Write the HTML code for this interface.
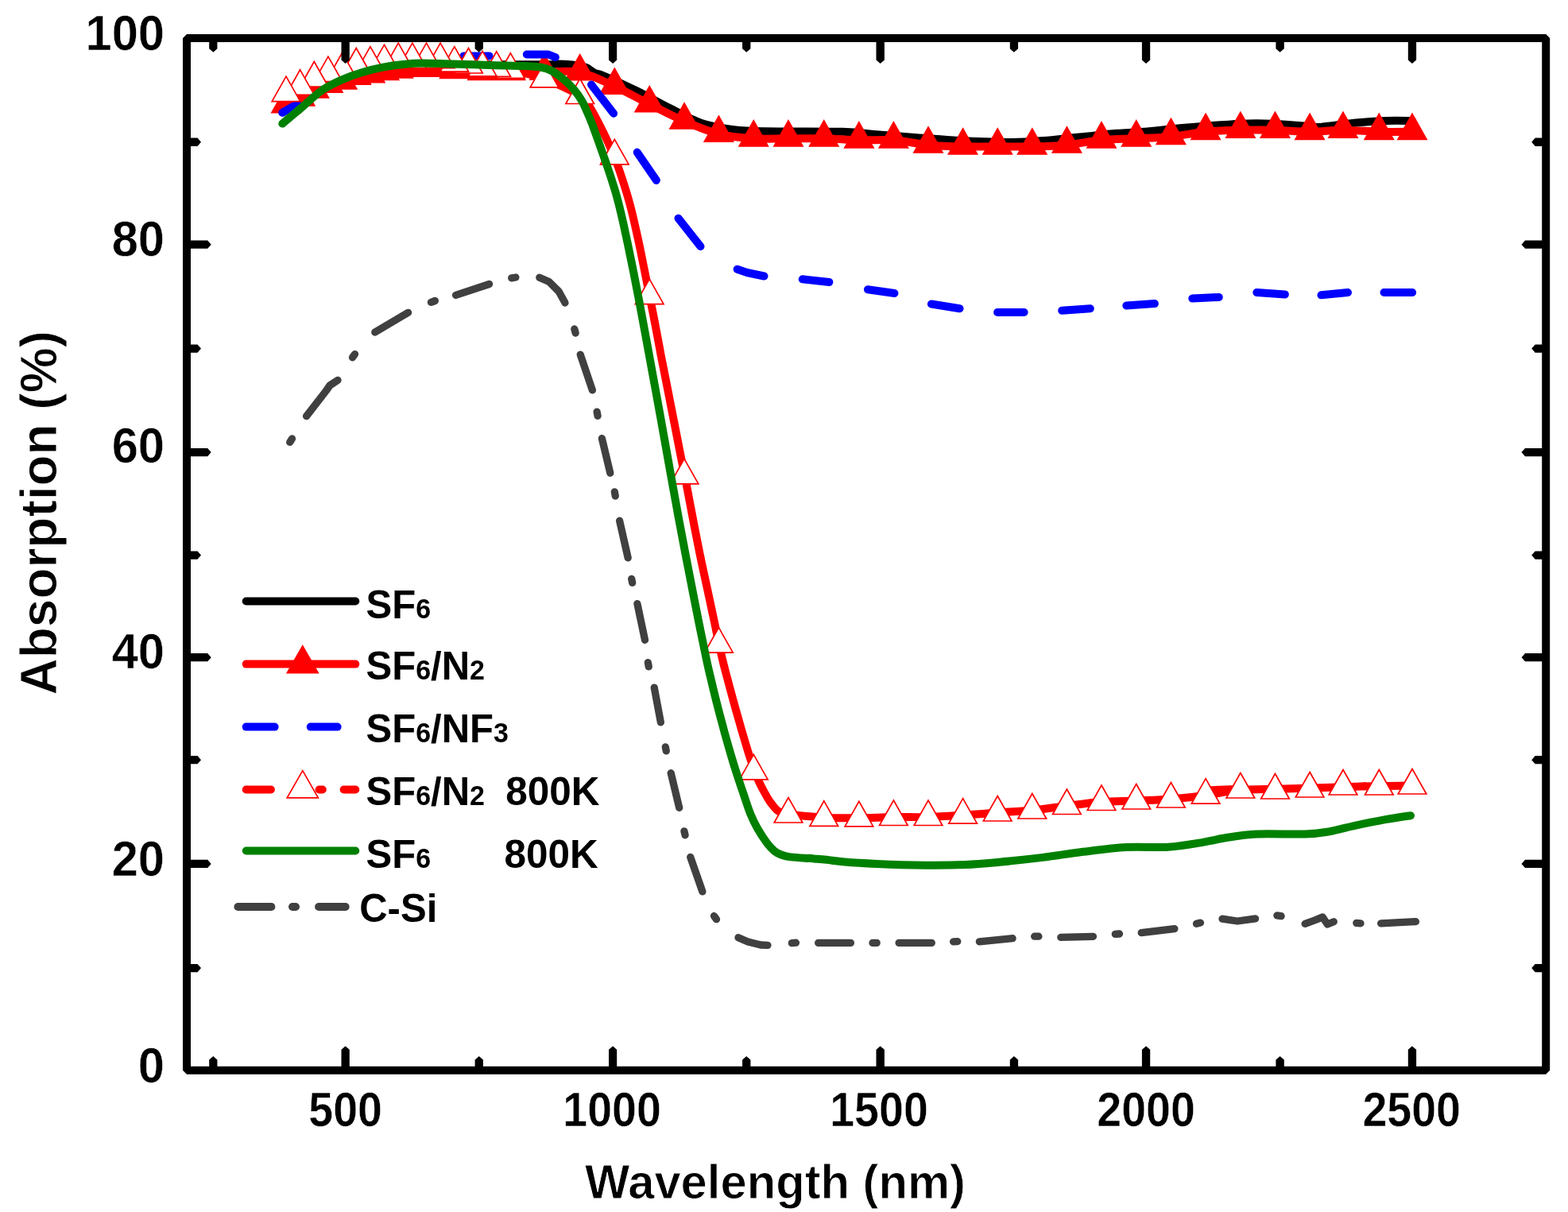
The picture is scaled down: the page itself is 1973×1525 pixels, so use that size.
<!DOCTYPE html>
<html lang="en"><head><meta charset="utf-8"><title>Absorption vs Wavelength</title>
<style>
html,body{margin:0;padding:0;background:#fff;}
body{width:1973px;height:1525px;overflow:hidden;}
svg{display:block;}
text{font-family:"Liberation Sans",Arial,Helvetica,sans-serif;font-weight:bold;fill:#000;}
.th{stroke:#fff;stroke-width:0.5px;paint-order:fill stroke;}
.tt{stroke:#fff;stroke-width:0.9px;paint-order:fill stroke;}
.tk{font-size:62.1px;}
.lg{font-size:49.8px;}
.sb{font-size:34.5px;}
</style></head><body>
<svg width="1973" height="1525" viewBox="0 0 1973 1525">
<rect x="0" y="0" width="1973" height="1525" fill="#ffffff"/>
<g id="series">
<path d="M360 125 C362.9 123.6 371.8 119.7 377.6 116.5 C383.4 113.3 389.1 108.8 395 106 C400.9 103.2 407.1 101.3 413 99.5 C418.9 97.7 424.8 96.7 430.6 95 C436.4 93.3 442.1 90.8 448 89.5 C453.9 88.2 460.1 87.9 466 87 C471.9 86.1 477.7 84.9 483.5 84 C489.3 83.1 492.2 82.2 501 81.5 C509.8 80.8 524.2 80.1 536 80 C547.8 79.9 560.2 80.8 572 81 C583.8 81.2 595.7 81.2 607 81.3 C618.3 81.3 626.2 81.3 640 81.3 C653.8 81.3 680 81.4 690 81.3 C700 81.2 695 80.5 700 80.5 C705 80.5 713.8 80.8 720 81.5 C726.2 82.2 733 83.5 737 84.8 C741 86.1 742 87.9 744 89.1 C746 90.3 746.3 91.1 749 92.2 C751.7 93.3 751.2 91.8 760 95.5 C768.8 99.2 787.9 107.8 801.6 114.5 C815.3 121.2 828.7 129.1 842.2 135.8 C855.7 142.6 869.2 150.4 882.7 155 C896.2 159.6 909.8 161.4 923.3 163.1 C936.8 164.8 941 164.8 963.8 165.2 C986.6 165.6 1037.3 165.2 1060 165.8 C1082.7 166.4 1084.8 167.7 1100 168.9 C1115.2 170.1 1135.7 171.7 1151 172.9 C1166.3 174.1 1178.5 175.2 1192 176 C1205.5 176.8 1218.5 177.5 1232 178 C1245.5 178.5 1259.5 179.2 1273 179 C1286.5 178.8 1301.2 177.8 1313 177 C1324.8 176.2 1335.5 174.8 1344 173.9 C1352.5 173.1 1353.8 172.9 1364 171.9 C1374.2 170.9 1392.3 168.8 1405 167.8 C1417.7 166.8 1425.7 167 1440 165.8 C1454.3 164.6 1470.4 162.5 1490.7 160.8 C1511 159.1 1543 156.5 1561.6 155.7 C1580.2 154.8 1588.7 155.2 1602.2 155.7 C1615.7 156.2 1632.6 158 1642.7 158.7 C1652.8 159.4 1652.8 160.4 1663 159.7 C1673.2 159 1690.1 156 1703.6 154.7 C1717.1 153.4 1731.8 152.4 1744 152 C1756.2 151.6 1771.5 152 1777 152" fill="none" stroke="#000000" stroke-width="10" stroke-linejoin="round" stroke-linecap="round"/>
<path d="M360 132.1 C362.9 130.7 371.8 126.6 377.6 123.5 C383.5 120.4 389.4 116.1 395.3 113.3 C401.2 110.5 407.1 108.5 412.9 106.7 C418.8 104.9 424.7 104.1 430.6 102.4 C436.5 100.7 442.4 98 448.2 96.6 C454.1 95.2 460 95 465.9 94.1 C471.8 93.2 477.7 91.9 483.5 91 C489.4 90.1 495.3 89.2 501.2 88.5 C507.1 87.8 513 87 518.9 86.7 C524.7 86.4 530.6 86.7 536.5 86.7 C542.4 86.7 548.3 86.3 554.1 86.7 C560 87.1 565.9 88.6 571.8 89 C577.7 89.4 583.6 88.7 589.5 89 C595.3 89.3 601.2 90.7 607.1 91 C613 91.3 618.9 91 624.8 91 C630.6 91 632.4 91 642.4 91 C652.4 91 670.5 90.7 685 90.7 C699.5 90.7 715 88.2 729.7 91.2 C744.4 94.2 758.7 102 773.3 108.6 C787.9 115.2 802.6 123.8 817.2 131.1 C831.8 138.4 846.5 146.1 861 152.4 C875.5 158.6 889.9 164.9 904.4 168.6 C918.9 172.2 933.7 173.3 948.3 174.3 C962.9 175.2 977.2 174.3 992 174.3 C1006.8 174.3 1022 174 1036.8 174.3 C1051.6 174.6 1066.3 176 1080.9 176.3 C1095.5 176.6 1109.9 175.3 1124.4 176.3 C1138.9 177.3 1153.5 181 1168 182.4 C1182.5 183.7 1197.1 184.1 1211.6 184.4 C1226.1 184.7 1240.7 184.4 1255.2 184.4 C1269.7 184.4 1284.3 184.7 1298.8 184.4 C1313.3 184.1 1327.9 183.7 1342.4 182.4 C1356.9 181 1371.4 177.6 1386 176.3 C1400.6 174.9 1415.2 175 1429.8 174.3 C1444.4 173.6 1458.9 173.3 1473.4 171.9 C1488 170.5 1502.5 167.2 1517.1 165.8 C1531.7 164.4 1546.3 164 1560.9 163.7 C1575.5 163.3 1590 163.3 1604.5 163.7 C1619 164 1633.8 165.8 1648.1 165.8 C1662.3 165.8 1675.5 163.7 1690 163.7 C1704.5 163.7 1720.8 165.4 1735.3 165.8 C1749.8 166.1 1770 165.8 1777 165.8" fill="none" stroke="#ff0000" stroke-width="10" stroke-linejoin="round" stroke-linecap="butt"/>
<path d="M1777 143.1 L1795.2 175.4 L1758.8 175.4 Z M1735.3 143.1 L1753.5 175.4 L1717 175.4 Z M1690 141 L1708.2 173.3 L1671.8 173.3 Z M1648.1 143.1 L1666.3 175.4 L1629.8 175.4 Z M1604.5 141 L1622.8 173.3 L1586.2 173.3 Z M1560.9 141 L1579.2 173.3 L1542.7 173.3 Z M1517.1 143.1 L1535.3 175.4 L1498.8 175.4 Z M1473.4 149.2 L1491.7 181.5 L1455.2 181.5 Z M1429.8 151.6 L1448 183.9 L1411.5 183.9 Z M1386 153.6 L1404.2 185.9 L1367.8 185.9 Z M1342.4 159.7 L1360.7 192 L1324.2 192 Z M1298.8 161.7 L1317 194 L1280.5 194 Z M1255.2 161.7 L1273.5 194 L1237 194 Z M1211.6 161.7 L1229.8 194 L1193.3 194 Z M1168 159.7 L1186.2 192 L1149.8 192 Z M1124.4 153.6 L1142.7 185.9 L1106.2 185.9 Z M1080.9 153.6 L1099.2 185.9 L1062.7 185.9 Z M1036.8 151.6 L1055 183.9 L1018.5 183.9 Z M992 151.6 L1010.2 183.9 L973.8 183.9 Z M948.3 151.6 L966.5 183.9 L930 183.9 Z M904.4 145.9 L922.6 178.2 L886.1 178.2 Z M861 129.7 L879.2 162 L842.8 162 Z M817.2 108.4 L835.5 140.7 L799 140.7 Z M773.3 85.9 L791.5 118.2 L755 118.2 Z M729.7 68.5 L748 100.8 L711.5 100.8 Z M685 68 L703.2 100.3 L666.8 100.3 Z M642.4 68.3 L660.6 100.6 L624.1 100.6 Z M624.8 68.3 L643 100.6 L606.5 100.6 Z M607.1 68.3 L625.3 100.6 L588.8 100.6 Z M589.5 66.3 L607.7 98.6 L571.2 98.6 Z M571.8 66.3 L590 98.6 L553.5 98.6 Z M554.1 64 L572.4 96.3 L535.9 96.3 Z M536.5 64 L554.8 96.3 L518.2 96.3 Z M518.9 64 L537.1 96.3 L500.6 96.3 Z M501.2 65.8 L519.5 98.1 L482.9 98.1 Z M483.5 68.3 L501.8 100.6 L465.3 100.6 Z M465.9 71.4 L484.1 103.7 L447.6 103.7 Z M448.2 73.9 L466.5 106.2 L430 106.2 Z M430.6 79.7 L448.9 112 L412.4 112 Z M412.9 84 L431.2 116.3 L394.7 116.3 Z M395.3 90.6 L413.6 122.9 L377.1 122.9 Z M377.6 100.8 L395.9 133.1 L359.4 133.1 Z M360 109.4 L378.2 141.7 L341.8 141.7 Z" fill="#ff0000" stroke="#ff0000" stroke-width="1.5" stroke-linejoin="miter"/>
<path d="M355.2 141.8 L374.6 130.7" fill="none" stroke="#0000ff" stroke-width="10" stroke-linecap="round" stroke-linejoin="round"/>
<path d="M424.2 97.3 L440 91 L457.7 85.4" fill="none" stroke="#0000ff" stroke-width="10" stroke-linecap="round" stroke-linejoin="round"/>
<path d="M503.5 75.5 L520 73.5 L537.5 72.3" fill="none" stroke="#0000ff" stroke-width="10" stroke-linecap="round" stroke-linejoin="round"/>
<path d="M583.5 70.4 L615.5 70.4" fill="none" stroke="#0000ff" stroke-width="10" stroke-linecap="round" stroke-linejoin="round"/>
<path d="M662.8 68.5 L690 68.5 L698.9 72.2" fill="none" stroke="#0000ff" stroke-width="10" stroke-linecap="round" stroke-linejoin="round"/>
<path d="M744 106.5 L772.1 142.8" fill="none" stroke="#0000ff" stroke-width="10" stroke-linecap="round" stroke-linejoin="round"/>
<path d="M801.7 191.6 L825.9 226.9" fill="none" stroke="#0000ff" stroke-width="10" stroke-linecap="round" stroke-linejoin="round"/>
<path d="M853.5 274.7 L881.5 310.1" fill="none" stroke="#0000ff" stroke-width="10" stroke-linecap="round" stroke-linejoin="round"/>
<path d="M927.6 338.7 L940 343 L961.5 347.5" fill="none" stroke="#0000ff" stroke-width="10" stroke-linecap="round" stroke-linejoin="round"/>
<path d="M1009.7 351.3 L1043.4 355" fill="none" stroke="#0000ff" stroke-width="10" stroke-linecap="round" stroke-linejoin="round"/>
<path d="M1091.9 364.2 L1125.5 369" fill="none" stroke="#0000ff" stroke-width="10" stroke-linecap="round" stroke-linejoin="round"/>
<path d="M1171.9 382.5 L1207.6 388.2" fill="none" stroke="#0000ff" stroke-width="10" stroke-linecap="round" stroke-linejoin="round"/>
<path d="M1255.1 393 L1288.6 393" fill="none" stroke="#0000ff" stroke-width="10" stroke-linecap="round" stroke-linejoin="round"/>
<path d="M1336.2 390.7 L1371.8 388.2" fill="none" stroke="#0000ff" stroke-width="10" stroke-linecap="round" stroke-linejoin="round"/>
<path d="M1417.3 384.5 L1452.9 382.1" fill="none" stroke="#0000ff" stroke-width="10" stroke-linecap="round" stroke-linejoin="round"/>
<path d="M1500.3 375.5 L1533.8 373.9" fill="none" stroke="#0000ff" stroke-width="10" stroke-linecap="round" stroke-linejoin="round"/>
<path d="M1581.3 367.9 L1616.9 370.4" fill="none" stroke="#0000ff" stroke-width="10" stroke-linecap="round" stroke-linejoin="round"/>
<path d="M1662.4 371.3 L1696 368" fill="none" stroke="#0000ff" stroke-width="10" stroke-linecap="round" stroke-linejoin="round"/>
<path d="M1741.5 368 L1777.1 368" fill="none" stroke="#0000ff" stroke-width="10" stroke-linecap="round" stroke-linejoin="round"/>
<path d="M360 117.2 C362.9 115.8 371.8 111.9 377.6 108.8 C383.5 105.7 389.4 101.3 395.3 98.5 C401.2 95.7 407.1 94.1 412.9 92.2 C418.8 90.3 424.7 89.1 430.6 87.3 C436.5 85.5 442.4 82.8 448.2 81.5 C454.1 80.2 460 80.4 465.9 79.7 C471.8 79 477.7 78.2 483.5 77.4 C489.4 76.7 495.3 75.6 501.2 75.2 C507.1 74.8 513 75.2 518.9 75.2 C524.7 75.2 530.6 75.2 536.5 75.2 C542.4 75.2 548.3 74.5 554.1 75.2 C560 76 565.9 78.7 571.8 79.7 C577.7 80.8 583.6 80.6 589.5 81.5 C595.3 82.4 601.2 84.6 607.1 85.3 C613 86 618.9 85.4 624.8 85.8 C630.6 86.2 632.4 85.5 642.4 87.8 C652.4 90 670.5 93.9 685 99.3 C699.5 104.7 720.9 115.2 729.7 120 C738.5 124.8 735.7 125.1 738 128 C740.3 130.9 741.4 133.5 743.7 137.3 C745.9 141.2 749 146.8 751.3 151.1 C753.6 155.4 755.8 159.8 757.5 163.3 C759.3 166.8 760.4 169.1 761.8 172 C763.1 174.9 763.9 176.4 765.7 180.5 C767.5 184.6 770.2 190.7 772.6 196.5 C774.9 202.3 777.1 207.8 779.8 215.6 C782.4 223.3 786.3 235.4 788.6 243 C790.9 250.6 792.1 255.1 793.7 261.2 C795.3 267.3 796.5 272.2 798.1 279.5 C799.8 286.8 801.9 296.2 803.8 305 C805.7 313.8 807.2 321.2 809.4 332.4 C811.7 343.6 815.2 361.5 817.3 372.1 C819.4 382.7 820.7 389.1 822.1 396.2 C823.4 403.3 824.2 407.2 825.6 414.5 C827 421.8 829.3 434.2 830.4 440 C831.4 445.8 830 438.5 832.1 449.1 C834.2 459.8 839 484.1 842.9 503.9 C846.8 523.7 852.3 552 855.4 567.7 C858.5 583.5 860.1 591.1 861.5 598.4 C863 605.7 862.5 603.2 864.1 611.5 C865.6 619.8 868.7 635.8 871 648 C873.3 660.2 876 674.2 878.1 684.5 C880.1 694.8 881.1 699.7 883.3 710 C885.5 720.3 888.6 734.3 891.2 746.5 C893.8 758.7 896.7 772.4 899 783 C901.2 793.6 903.1 802.8 904.7 810.4 C906.4 818 907.4 822.8 908.8 828.6 C910.2 834.4 910.6 836.2 912.9 845 C915.2 853.8 919.4 869.3 922.7 881.5 C926.1 893.7 929.9 907.4 933 918 C936.1 928.6 938.5 936.7 941.2 945.4 C944 954.1 947.2 964 949.5 970.4 C951.8 976.8 952.9 979.2 955 983.7 C957.1 988.2 959.8 993.3 962.1 997.4 C964.3 1001.5 966 1004.6 968.6 1008.3 C971.2 1011.9 975 1016.8 977.7 1019.3 C980.4 1021.8 982.5 1022.1 985 1023 C987.5 1023.9 983.9 1023.5 992.5 1024.5 C1001.1 1025.5 1022.1 1028 1036.8 1028.8 C1051.5 1029.6 1066.3 1029.4 1080.9 1029.3 C1095.5 1029.2 1109.9 1028.2 1124.4 1028 C1138.9 1027.8 1153.5 1028.4 1168 1028 C1182.5 1027.6 1197.1 1026.6 1211.6 1025.7 C1226.1 1024.8 1240.7 1023.5 1255.2 1022.5 C1269.7 1021.5 1284.3 1020.9 1298.8 1019.5 C1313.3 1018.1 1327.9 1015.8 1342.4 1014 C1356.9 1012.2 1371.4 1010.1 1386 1009 C1400.6 1007.9 1415.2 1008.1 1429.8 1007.5 C1444.4 1006.9 1458.9 1006.6 1473.4 1005.5 C1488 1004.4 1503.7 1002.7 1517.1 1000.7 C1530.5 998.7 1552.7 994.5 1553.6 993.5 C1554.4 992.5 1511.5 994.7 1522 994.5 C1532.6 994.3 1585 993.3 1616.8 992.5 C1648.6 991.7 1696.7 990 1712.7 989.5 C1728.6 989 1701.9 989.7 1712.7 989.5 C1723.4 989.3 1766.3 988.7 1777 988.5" fill="none" stroke="#ff0000" stroke-width="10" stroke-linejoin="round" stroke-linecap="butt"/>
<path d="M1777 967.5 L1794.8 999 L1759.2 999 Z" fill="#ffffff" stroke="#ff0000" stroke-width="1.7" stroke-linejoin="miter"/>
<path d="M1735.3 968.5 L1753.1 1000 L1717.5 1000 Z" fill="#ffffff" stroke="#ff0000" stroke-width="1.7" stroke-linejoin="miter"/>
<path d="M1690 968.5 L1707.8 1000 L1672.2 1000 Z" fill="#ffffff" stroke="#ff0000" stroke-width="1.7" stroke-linejoin="miter"/>
<path d="M1648.1 971.5 L1665.9 1003 L1630.3 1003 Z" fill="#ffffff" stroke="#ff0000" stroke-width="1.7" stroke-linejoin="miter"/>
<path d="M1604.5 973.5 L1622.3 1005 L1586.7 1005 Z" fill="#ffffff" stroke="#ff0000" stroke-width="1.7" stroke-linejoin="miter"/>
<path d="M1560.9 972.5 L1578.7 1004 L1543.1 1004 Z" fill="#ffffff" stroke="#ff0000" stroke-width="1.7" stroke-linejoin="miter"/>
<path d="M1517.1 979.7 L1534.9 1011.2 L1499.3 1011.2 Z" fill="#ffffff" stroke="#ff0000" stroke-width="1.7" stroke-linejoin="miter"/>
<path d="M1473.4 984.5 L1491.2 1016 L1455.6 1016 Z" fill="#ffffff" stroke="#ff0000" stroke-width="1.7" stroke-linejoin="miter"/>
<path d="M1429.8 986.5 L1447.6 1018 L1412 1018 Z" fill="#ffffff" stroke="#ff0000" stroke-width="1.7" stroke-linejoin="miter"/>
<path d="M1386 988 L1403.8 1019.5 L1368.2 1019.5 Z" fill="#ffffff" stroke="#ff0000" stroke-width="1.7" stroke-linejoin="miter"/>
<path d="M1342.4 993 L1360.2 1024.5 L1324.6 1024.5 Z" fill="#ffffff" stroke="#ff0000" stroke-width="1.7" stroke-linejoin="miter"/>
<path d="M1298.8 998.5 L1316.6 1030 L1281 1030 Z" fill="#ffffff" stroke="#ff0000" stroke-width="1.7" stroke-linejoin="miter"/>
<path d="M1255.2 1001.5 L1273 1033 L1237.4 1033 Z" fill="#ffffff" stroke="#ff0000" stroke-width="1.7" stroke-linejoin="miter"/>
<path d="M1211.6 1004.7 L1229.4 1036.2 L1193.8 1036.2 Z" fill="#ffffff" stroke="#ff0000" stroke-width="1.7" stroke-linejoin="miter"/>
<path d="M1168 1007 L1185.8 1038.5 L1150.2 1038.5 Z" fill="#ffffff" stroke="#ff0000" stroke-width="1.7" stroke-linejoin="miter"/>
<path d="M1124.4 1007 L1142.2 1038.5 L1106.6 1038.5 Z" fill="#ffffff" stroke="#ff0000" stroke-width="1.7" stroke-linejoin="miter"/>
<path d="M1080.9 1008.3 L1098.7 1039.8 L1063.1 1039.8 Z" fill="#ffffff" stroke="#ff0000" stroke-width="1.7" stroke-linejoin="miter"/>
<path d="M1036.8 1007.8 L1054.6 1039.3 L1019 1039.3 Z" fill="#ffffff" stroke="#ff0000" stroke-width="1.7" stroke-linejoin="miter"/>
<path d="M992 1003.5 L1009.8 1035 L974.2 1035 Z" fill="#ffffff" stroke="#ff0000" stroke-width="1.7" stroke-linejoin="miter"/>
<path d="M948.3 949.4 L966.1 980.9 L930.5 980.9 Z" fill="#ffffff" stroke="#ff0000" stroke-width="1.7" stroke-linejoin="miter"/>
<path d="M904.4 789.6 L922.2 821.1 L886.6 821.1 Z" fill="#ffffff" stroke="#ff0000" stroke-width="1.7" stroke-linejoin="miter"/>
<path d="M861 577.4 L878.8 608.9 L843.2 608.9 Z" fill="#ffffff" stroke="#ff0000" stroke-width="1.7" stroke-linejoin="miter"/>
<path d="M817.2 351.1 L835 382.6 L799.4 382.6 Z" fill="#ffffff" stroke="#ff0000" stroke-width="1.7" stroke-linejoin="miter"/>
<path d="M773.3 175.3 L791.1 206.8 L755.5 206.8 Z" fill="#ffffff" stroke="#ff0000" stroke-width="1.7" stroke-linejoin="miter"/>
<path d="M729.7 99 L747.5 130.5 L711.9 130.5 Z" fill="#ffffff" stroke="#ff0000" stroke-width="1.7" stroke-linejoin="miter"/>
<path d="M685 78.3 L702.8 109.8 L667.2 109.8 Z" fill="#ffffff" stroke="#ff0000" stroke-width="1.7" stroke-linejoin="miter"/>
<path d="M642.4 66.8 L660.2 98.3 L624.6 98.3 Z" fill="#ffffff" stroke="#ff0000" stroke-width="1.7" stroke-linejoin="miter"/>
<path d="M624.8 64.8 L642.5 96.3 L607 96.3 Z" fill="#ffffff" stroke="#ff0000" stroke-width="1.7" stroke-linejoin="miter"/>
<path d="M607.1 64.3 L624.9 95.8 L589.3 95.8 Z" fill="#ffffff" stroke="#ff0000" stroke-width="1.7" stroke-linejoin="miter"/>
<path d="M589.5 60.5 L607.2 92 L571.7 92 Z" fill="#ffffff" stroke="#ff0000" stroke-width="1.7" stroke-linejoin="miter"/>
<path d="M571.8 58.7 L589.6 90.2 L554 90.2 Z" fill="#ffffff" stroke="#ff0000" stroke-width="1.7" stroke-linejoin="miter"/>
<path d="M554.1 54.2 L571.9 85.7 L536.4 85.7 Z" fill="#ffffff" stroke="#ff0000" stroke-width="1.7" stroke-linejoin="miter"/>
<path d="M536.5 54.2 L554.3 85.7 L518.7 85.7 Z" fill="#ffffff" stroke="#ff0000" stroke-width="1.7" stroke-linejoin="miter"/>
<path d="M518.9 54.2 L536.6 85.7 L501.1 85.7 Z" fill="#ffffff" stroke="#ff0000" stroke-width="1.7" stroke-linejoin="miter"/>
<path d="M501.2 54.2 L519 85.7 L483.4 85.7 Z" fill="#ffffff" stroke="#ff0000" stroke-width="1.7" stroke-linejoin="miter"/>
<path d="M483.5 56.4 L501.3 87.9 L465.7 87.9 Z" fill="#ffffff" stroke="#ff0000" stroke-width="1.7" stroke-linejoin="miter"/>
<path d="M465.9 58.7 L483.7 90.2 L448.1 90.2 Z" fill="#ffffff" stroke="#ff0000" stroke-width="1.7" stroke-linejoin="miter"/>
<path d="M448.2 60.5 L466.1 92 L430.4 92 Z" fill="#ffffff" stroke="#ff0000" stroke-width="1.7" stroke-linejoin="miter"/>
<path d="M430.6 66.3 L448.4 97.8 L412.8 97.8 Z" fill="#ffffff" stroke="#ff0000" stroke-width="1.7" stroke-linejoin="miter"/>
<path d="M412.9 71.2 L430.8 102.7 L395.1 102.7 Z" fill="#ffffff" stroke="#ff0000" stroke-width="1.7" stroke-linejoin="miter"/>
<path d="M395.3 77.5 L413.1 109 L377.5 109 Z" fill="#ffffff" stroke="#ff0000" stroke-width="1.7" stroke-linejoin="miter"/>
<path d="M377.6 87.8 L395.4 119.3 L359.8 119.3 Z" fill="#ffffff" stroke="#ff0000" stroke-width="1.7" stroke-linejoin="miter"/>
<path d="M360 96.2 L377.8 127.7 L342.2 127.7 Z" fill="#ffffff" stroke="#ff0000" stroke-width="1.7" stroke-linejoin="miter"/>
<path d="M355.3 155.6 C359.5 152.1 372.2 141.4 380.7 134.3 C389.1 127.2 397.6 118.8 406 113 C414.4 107.2 422.9 103.5 431.4 99.8 C439.8 96.1 448.3 93.2 456.7 90.7 C465.1 88.2 473.6 86.2 482 84.6 C490.4 83 499.4 81.8 507.4 81 C515.4 80.2 519.9 79.6 530 79.5 C540.1 79.4 553.7 80.1 568 80.5 C582.3 80.9 600.7 81.6 616 82 C631.3 82.4 649.3 82.6 660 83 C670.7 83.4 674.2 83.4 680 84.5 C685.8 85.6 689.9 86.8 694.9 89.5 C699.9 92.2 705.7 96.9 710.3 100.8 C714.9 104.7 718.8 108.7 722.4 113 C726 117.3 729.6 122.5 732.2 126.8 C734.8 131.1 736.1 134.8 737.9 138.9 C739.7 143 741.6 147.2 743.1 151.1 C744.7 154.9 745.1 155.8 747.3 162 C749.6 168.2 754 180.8 756.7 188.2 C759.3 195.6 761 200.4 763.1 206.5 C765.2 212.6 767.3 218.6 769.2 224.7 C771.2 230.8 773.1 236.9 774.9 243 C776.6 249.1 778.2 255.1 779.7 261.2 C781.2 267.3 782.3 272.2 784 279.5 C785.6 286.8 787.3 294.7 789.5 305 C791.6 315.3 794.5 329.3 797 341.5 C799.4 353.7 801.7 365.8 804.1 378 C806.4 390.2 809 404.2 810.9 414.5 C812.8 424.8 812.9 425.1 815.6 440 C818.3 454.9 823.4 482.4 827.3 503.9 C831.2 525.4 835.8 551.1 839 569 C842.2 586.9 844.2 598.3 846.6 611.5 C849 624.7 851 635.8 853.2 648 C855.5 660.2 858.1 674.2 860.1 684.5 C862 694.8 863 699.7 865 710 C867 720.3 869.7 734.3 872.1 746.5 C874.5 758.7 876.9 770.8 879.3 783 C881.8 795.2 884.6 809.2 886.8 819.5 C888.9 829.8 889.9 834.7 892.3 845 C894.7 855.3 898.1 869.3 901.1 881.5 C904.2 893.7 907.4 905.8 910.7 918 C914 930.2 918.3 945 921.1 954.5 C923.9 964 925.2 967.9 927.5 975 C929.8 982.1 932.2 989.1 935 997.4 C937.9 1005.7 941.4 1017.1 944.5 1024.7 C947.6 1032.3 950 1036.9 953.5 1043 C957 1049.1 962 1056.6 965.5 1061.2 C969 1065.8 971.6 1068.4 974.5 1070.8 C977.4 1073.2 979.6 1074.2 983 1075.5 C986.4 1076.8 988.1 1077.6 995 1078.4 C1001.9 1079.2 1016.7 1079.8 1024.2 1080.4 C1031.7 1081 1033.6 1081.1 1040 1081.8 C1046.4 1082.5 1052.2 1083.7 1062.7 1084.6 C1073.2 1085.5 1086.4 1086.3 1103.3 1087 C1120.2 1087.7 1145.5 1088.5 1164.1 1088.7 C1182.7 1088.9 1199.5 1088.6 1214.7 1088 C1229.9 1087.4 1239.1 1086.5 1255.3 1085 C1271.5 1083.5 1294.1 1081.1 1312 1078.9 C1329.9 1076.7 1345.1 1073.9 1362.7 1071.8 C1380.3 1069.7 1399.6 1067.1 1417.5 1066.1 C1435.4 1065.1 1454 1066.8 1470.2 1065.7 C1486.4 1064.6 1503.1 1061.5 1514.8 1059.6 C1526.5 1057.7 1529.5 1056.2 1540.5 1054.5 C1551.5 1052.8 1564.2 1050.3 1581.1 1049.5 C1598 1048.7 1626.7 1050 1641.9 1049.5 C1657.1 1049 1662.2 1048.1 1672.3 1046.4 C1682.4 1044.7 1690.9 1041.8 1702.7 1039.3 C1714.5 1036.8 1731.2 1033.4 1743.3 1031.2 C1755.3 1029 1769.7 1027 1775 1026.2" fill="none" stroke="#008000" stroke-width="10" stroke-linejoin="round" stroke-linecap="round"/>
<path d="M364.7 556.4 L367.5 552" fill="none" stroke="#404040" stroke-width="9.3" stroke-linecap="round" stroke-linejoin="round"/>
<path d="M385.6 523.6 L410.5 491.5 L415 485 L425 478.4" fill="none" stroke="#404040" stroke-width="9.3" stroke-linecap="round" stroke-linejoin="round"/>
<path d="M443.5 449.8 L446.5 445.6" fill="none" stroke="#404040" stroke-width="9.3" stroke-linecap="round" stroke-linejoin="round"/>
<path d="M471.8 418.1 L513.6 393.3" fill="none" stroke="#404040" stroke-width="9.3" stroke-linecap="round" stroke-linejoin="round"/>
<path d="M542.4 380.3 L547.4 378.5" fill="none" stroke="#404040" stroke-width="9.3" stroke-linecap="round" stroke-linejoin="round"/>
<path d="M573.5 371.3 L615.6 357.5" fill="none" stroke="#404040" stroke-width="9.3" stroke-linecap="round" stroke-linejoin="round"/>
<path d="M643.7 349.8 L648.9 349" fill="none" stroke="#404040" stroke-width="9.3" stroke-linecap="round" stroke-linejoin="round"/>
<path d="M678.8 349.2 L690.9 354.5 L703 366.6 L711 381" fill="none" stroke="#404040" stroke-width="9.3" stroke-linecap="round" stroke-linejoin="round"/>
<path d="M722.8 414 L724.2 419" fill="none" stroke="#404040" stroke-width="9.3" stroke-linecap="round" stroke-linejoin="round"/>
<path d="M730.2 446.1 L745.4 490.9" fill="none" stroke="#404040" stroke-width="9.3" stroke-linecap="round" stroke-linejoin="round"/>
<path d="M751.1 518.1 L752.1 523.3" fill="none" stroke="#404040" stroke-width="9.3" stroke-linecap="round" stroke-linejoin="round"/>
<path d="M757.4 551.6 L767.8 595.2" fill="none" stroke="#404040" stroke-width="9.3" stroke-linecap="round" stroke-linejoin="round"/>
<path d="M773.3 618.9 L774.3 624.1" fill="none" stroke="#404040" stroke-width="9.3" stroke-linecap="round" stroke-linejoin="round"/>
<path d="M779.6 655.2 L790.2 701.9" fill="none" stroke="#404040" stroke-width="9.3" stroke-linecap="round" stroke-linejoin="round"/>
<path d="M794.7 728.3 L795.7 733.3" fill="none" stroke="#404040" stroke-width="9.3" stroke-linecap="round" stroke-linejoin="round"/>
<path d="M801.9 759.6 L811.5 805.3" fill="none" stroke="#404040" stroke-width="9.3" stroke-linecap="round" stroke-linejoin="round"/>
<path d="M815.3 833.6 L816.3 838.8" fill="none" stroke="#404040" stroke-width="9.3" stroke-linecap="round" stroke-linejoin="round"/>
<path d="M823.2 865.1 L831.4 908.9" fill="none" stroke="#404040" stroke-width="9.3" stroke-linecap="round" stroke-linejoin="round"/>
<path d="M837.3 939.9 L838.3 944.9" fill="none" stroke="#404040" stroke-width="9.3" stroke-linecap="round" stroke-linejoin="round"/>
<path d="M844.2 972.7 L854.7 1016.4" fill="none" stroke="#404040" stroke-width="9.3" stroke-linecap="round" stroke-linejoin="round"/>
<path d="M860.9 1045.8 L862.1 1050.8" fill="none" stroke="#404040" stroke-width="9.3" stroke-linecap="round" stroke-linejoin="round"/>
<path d="M868.7 1078.4 L883.9 1121.9" fill="none" stroke="#404040" stroke-width="9.3" stroke-linecap="round" stroke-linejoin="round"/>
<path d="M898.5 1152.5 L901.5 1156.7" fill="none" stroke="#404040" stroke-width="9.3" stroke-linecap="round" stroke-linejoin="round"/>
<path d="M929 1179.7 L941.1 1185 L957.3 1189 L966 1189.4" fill="none" stroke="#404040" stroke-width="9.3" stroke-linecap="round" stroke-linejoin="round"/>
<path d="M996.3 1186.6 L1001.5 1186.2" fill="none" stroke="#404040" stroke-width="9.3" stroke-linecap="round" stroke-linejoin="round"/>
<path d="M1029.7 1186.4 L1070.4 1186.4" fill="none" stroke="#404040" stroke-width="9.3" stroke-linecap="round" stroke-linejoin="round"/>
<path d="M1098 1186.4 L1103.2 1186.4" fill="none" stroke="#404040" stroke-width="9.3" stroke-linecap="round" stroke-linejoin="round"/>
<path d="M1131.1 1186.4 L1172.3 1186.4" fill="none" stroke="#404040" stroke-width="9.3" stroke-linecap="round" stroke-linejoin="round"/>
<path d="M1199.6 1184.9 L1204.8 1184.7" fill="none" stroke="#404040" stroke-width="9.3" stroke-linecap="round" stroke-linejoin="round"/>
<path d="M1232.4 1184.8 L1274.1 1180.7" fill="none" stroke="#404040" stroke-width="9.3" stroke-linecap="round" stroke-linejoin="round"/>
<path d="M1301.7 1178.2 L1306.9 1178.2" fill="none" stroke="#404040" stroke-width="9.3" stroke-linecap="round" stroke-linejoin="round"/>
<path d="M1334.8 1179.4 L1375.5 1178.3" fill="none" stroke="#404040" stroke-width="9.3" stroke-linecap="round" stroke-linejoin="round"/>
<path d="M1403.3 1175.4 L1408.5 1175" fill="none" stroke="#404040" stroke-width="9.3" stroke-linecap="round" stroke-linejoin="round"/>
<path d="M1436.2 1173.7 L1477.9 1168.6" fill="none" stroke="#404040" stroke-width="9.3" stroke-linecap="round" stroke-linejoin="round"/>
<path d="M1505.5 1162.3 L1510.5 1161.1" fill="none" stroke="#404040" stroke-width="9.3" stroke-linecap="round" stroke-linejoin="round"/>
<path d="M1538 1156.2 L1557 1159 L1579.6 1155.9" fill="none" stroke="#404040" stroke-width="9.3" stroke-linecap="round" stroke-linejoin="round"/>
<path d="M1606.9 1151.9 L1612.1 1152.7" fill="none" stroke="#404040" stroke-width="9.3" stroke-linecap="round" stroke-linejoin="round"/>
<path d="M1642.1 1162.4 L1654.1 1158 L1664.2 1153.9 L1670.3 1163 L1678.3 1159.7" fill="none" stroke="#404040" stroke-width="9.3" stroke-linecap="round" stroke-linejoin="round"/>
<path d="M1706.8 1161.4 L1712 1161.8" fill="none" stroke="#404040" stroke-width="9.3" stroke-linecap="round" stroke-linejoin="round"/>
<path d="M1737.6 1161.8 L1781.4 1159.6" fill="none" stroke="#404040" stroke-width="9.3" stroke-linecap="round" stroke-linejoin="round"/>
</g>
<g id="axes" stroke="#000" stroke-width="10" fill="none">
<rect x="235" y="47.9" width="1710.2" height="1298.8" stroke-linejoin="bevel"/>
<path d="M263.2 47.9 L263.2 61.2 L268.3 65.7 L273.4 61.2 L273.4 47.9 Z M263.2 1346.7 L263.2 1333.4 L268.3 1328.9 L273.4 1333.4 L273.4 1346.7 Z M429.5 47.9 L429.5 75.5 L434.6 80 L439.8 75.5 L439.8 47.9 Z M429.5 1346.7 L429.5 1320.8 L434.6 1316.3 L439.8 1320.8 L439.8 1346.7 Z M597.6 47.9 L597.6 61.2 L602.8 65.7 L607.9 61.2 L607.9 47.9 Z M597.6 1346.7 L597.6 1333.4 L602.8 1328.9 L607.9 1333.4 L607.9 1346.7 Z M766 47.9 L766 75.5 L771.1 80 L776.2 75.5 L776.2 47.9 Z M766 1346.7 L766 1320.8 L771.1 1316.3 L776.2 1320.8 L776.2 1346.7 Z M934.1 47.9 L934.1 61.2 L939.2 65.7 L944.4 61.2 L944.4 47.9 Z M934.1 1346.7 L934.1 1333.4 L939.2 1328.9 L944.4 1333.4 L944.4 1346.7 Z M1102.5 47.9 L1102.5 75.5 L1107.7 80 L1112.9 75.5 L1112.9 47.9 Z M1102.5 1346.7 L1102.5 1320.8 L1107.7 1316.3 L1112.9 1320.8 L1112.9 1346.7 Z M1270.8 47.9 L1270.8 61.2 L1275.9 65.7 L1281.1 61.2 L1281.1 47.9 Z M1270.8 1346.7 L1270.8 1333.4 L1275.9 1328.9 L1281.1 1333.4 L1281.1 1346.7 Z M1436.9 47.9 L1436.9 75.5 L1442.1 80 L1447.2 75.5 L1447.2 47.9 Z M1436.9 1346.7 L1436.9 1320.8 L1442.1 1316.3 L1447.2 1320.8 L1447.2 1346.7 Z M1605.4 47.9 L1605.4 61.2 L1610.6 65.7 L1615.8 61.2 L1615.8 47.9 Z M1605.4 1346.7 L1605.4 1333.4 L1610.6 1328.9 L1615.8 1333.4 L1615.8 1346.7 Z M1771.8 47.9 L1771.8 75.5 L1776.9 80 L1782.1 75.5 L1782.1 47.9 Z M1771.8 1346.7 L1771.8 1320.8 L1776.9 1316.3 L1782.1 1320.8 L1782.1 1346.7 Z M235 1213 L248.5 1213 L253 1218.1 L248.5 1223.3 L235 1223.3 Z M1945.2 1213 L1931.7 1213 L1927.2 1218.1 L1931.7 1223.3 L1945.2 1223.3 Z M235 1081.8 L261.2 1081.8 L265.7 1086.9 L261.2 1092.1 L235 1092.1 Z M1945.2 1081.8 L1919 1081.8 L1914.5 1086.9 L1919 1092.1 L1945.2 1092.1 Z M235 951 L248.5 951 L253 956.2 L248.5 961.3 L235 961.3 Z M1945.2 951 L1931.7 951 L1927.2 956.2 L1931.7 961.3 L1945.2 961.3 Z M235 822 L261.2 822 L265.7 827.2 L261.2 832.3 L235 832.3 Z M1945.2 822 L1919 822 L1914.5 827.2 L1919 832.3 L1945.2 832.3 Z M235 693.4 L248.5 693.4 L253 698.5 L248.5 703.7 L235 703.7 Z M1945.2 693.4 L1931.7 693.4 L1927.2 698.5 L1931.7 703.7 L1945.2 703.7 Z M235 564 L261.2 564 L265.7 569.1 L261.2 574.3 L235 574.3 Z M1945.2 564 L1919 564 L1914.5 569.1 L1919 574.3 L1945.2 574.3 Z M235 433.4 L248.5 433.4 L253 438.5 L248.5 443.7 L235 443.7 Z M1945.2 433.4 L1931.7 433.4 L1927.2 438.5 L1931.7 443.7 L1945.2 443.7 Z M235 302.5 L261.2 302.5 L265.7 307.7 L261.2 312.8 L235 312.8 Z M1945.2 302.5 L1919 302.5 L1914.5 307.7 L1919 312.8 L1945.2 312.8 Z M235 173.6 L248.5 173.6 L253 178.8 L248.5 183.9 L235 183.9 Z M1945.2 173.6 L1931.7 173.6 L1927.2 178.8 L1931.7 183.9 L1945.2 183.9 Z" fill="#000" stroke="none"/>
</g>
<g id="ticklabels">
<text transform="translate(207 1361.6) scale(0.960 1)" class="tk th" text-anchor="end">0</text>
<text transform="translate(207 1101.5) scale(0.960 1)" class="tk th" text-anchor="end">20</text>
<text transform="translate(207 840.8) scale(0.960 1)" class="tk th" text-anchor="end">40</text>
<text transform="translate(207 582) scale(0.960 1)" class="tk th" text-anchor="end">60</text>
<text transform="translate(207 322.3) scale(0.960 1)" class="tk th" text-anchor="end">80</text>
<text transform="translate(207 62.5) scale(0.960 1)" class="tk th" text-anchor="end">100</text>
<text transform="translate(434.6 1416.6) scale(0.920 1)" class="th" style="font-size:60.4px" text-anchor="middle">500</text>
<text transform="translate(770.1 1416.6) scale(0.920 1)" class="th" style="font-size:60.4px" text-anchor="middle">1000</text>
<text transform="translate(1106 1416.6) scale(0.920 1)" class="th" style="font-size:60.4px" text-anchor="middle">1500</text>
<text transform="translate(1442.1 1416.6) scale(0.920 1)" class="th" style="font-size:60.4px" text-anchor="middle">2000</text>
<text transform="translate(1776.2 1416.6) scale(0.920 1)" class="th" style="font-size:60.4px" text-anchor="middle">2500</text>
</g>
<text transform="translate(975.5 1508.3) scale(0.976 1)" class="tt" style="font-size:61.2px" text-anchor="middle">Wavelength (nm)</text>
<text transform="translate(71.3 645.3) rotate(-90) scale(0.975 1)" class="tt" style="font-size:65.6px" text-anchor="middle">Absorption (%)</text>
<g id="legend">
<path d="M309.7 756.5 H447.3" stroke="#000000" stroke-width="10" stroke-linecap="round" fill="none"/>
<text transform="translate(460.5 778.4) scale(0.985 1)" class="lg">SF<tspan class="sb">6</tspan></text>
<path d="M309.7 835.6 H447.3" stroke="#ff0000" stroke-width="10" stroke-linecap="round" fill="none"/>
<path d="M380.8 812.5 L400.4 846.7 L361.2 846.7 Z" fill="#ff0000" stroke="#ff0000" stroke-width="1.5"/>
<text transform="translate(460.5 855.4) scale(0.985 1)" class="lg">SF<tspan class="sb">6</tspan>/N<tspan class="sb">2</tspan></text>
<path d="M309.7 914.6 H345.6" stroke="#0000ff" stroke-width="10" stroke-linecap="round" fill="none"/>
<path d="M390.8 914.6 H424.6" stroke="#0000ff" stroke-width="10" stroke-linecap="round" fill="none"/>
<text transform="translate(460.5 933.9) scale(0.985 1)" class="lg">SF<tspan class="sb">6</tspan>/NF<tspan class="sb">3</tspan></text>
<path d="M309.7 993.5 H340.9" stroke="#ff0000" stroke-width="10" stroke-linecap="round" fill="none"/>
<path d="M401.6 993.5 H405.8" stroke="#ff0000" stroke-width="10" stroke-linecap="round" fill="none"/>
<path d="M432.6 993.5 H447.3" stroke="#ff0000" stroke-width="10" stroke-linecap="round" fill="none"/>
<path d="M380.8 969.7 L400.4 1003.9 L361.2 1003.9 Z" fill="#ffffff" stroke="#ff0000" stroke-width="1.7"/>
<text transform="translate(460.5 1013) scale(0.985 1)" class="lg">SF<tspan class="sb">6</tspan>/N<tspan class="sb">2</tspan></text>
<text transform="translate(636.3 1013) scale(0.994 1)" class="lg">800K</text>
<path d="M309.8 1070.5 H447.3" stroke="#008000" stroke-width="10" stroke-linecap="round" fill="none"/>
<text transform="translate(460.5 1091.5) scale(0.985 1)" class="lg">SF<tspan class="sb">6</tspan></text>
<text transform="translate(634.5 1091.5) scale(0.994 1)" class="lg">800K</text>
<path d="M299.4 1141 H341.4" stroke="#404040" stroke-width="10" stroke-linecap="round" fill="none"/>
<path d="M368 1141 H372" stroke="#404040" stroke-width="10" stroke-linecap="round" fill="none"/>
<path d="M401.1 1141 H434.7" stroke="#404040" stroke-width="10" stroke-linecap="round" fill="none"/>
<text transform="translate(452.2 1160) scale(0.985 1)" class="lg">C-Si</text>
</g>
</svg>
</body></html>
